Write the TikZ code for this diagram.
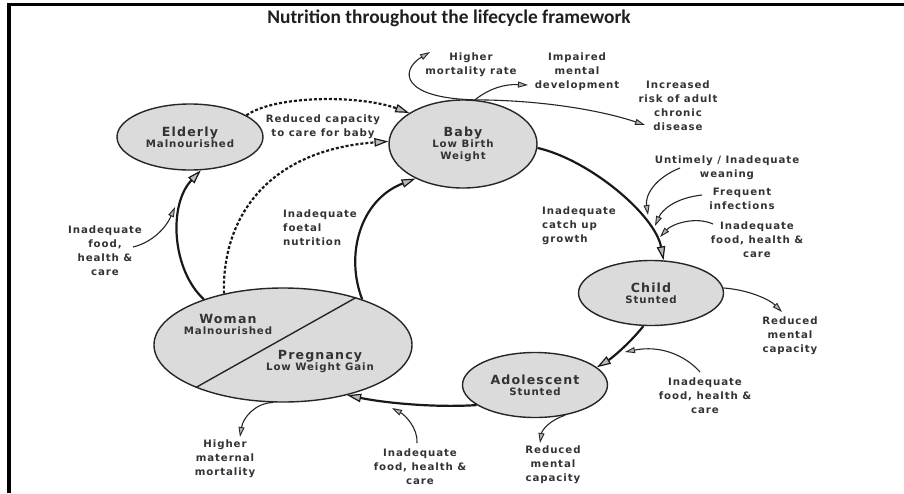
\documentclass[tikz,border=0pt]{standalone}
\usepackage{fontspec}
\setmainfont{DejaVu Sans}
\newfontfamily\labfont{DejaVu Sans}[LetterSpace=9]
\newfontfamily\titlefont{Carlito}
\usetikzlibrary{shapes.geometric,arrows.meta}

\tikzset{
  stage/.style={ellipse, draw=black!85, line width=1.4pt, fill=gray!28,
    inner sep=0pt, align=center, text=black!80, font=\labfont\bfseries},
  lbl/.style={align=center, text=black!80, inner sep=0pt,
    font=\labfont\bfseries\fontsize{10.2}{14}\selectfont},
  cycleflow/.style={line width=2.2pt, draw=black!90,
    -{Triangle[length=14pt,width=8.5pt,line width=1.2pt,fill=gray!55]}},
  dotflow/.style={cycleflow, dash pattern=on 3pt off 2pt},
  effect/.style={line width=1.1pt, draw=black!85,
    -{Triangle[length=10pt,width=6pt,line width=0.9pt,fill=gray!60]}},
}
\newcommand{\stagetext}[2]{{\fontsize{12.6}{17}\selectfont #1}\\[-1pt]{\fontsize{10.2}{14}\selectfont #2}}

\begin{document}
\begin{tikzpicture}[x=1pt,y=-1pt]
\useasboundingbox (0,0) rectangle (904,493);
\fill[white] (0,0) rectangle (904,493);

% page frame (top and left rules)
\fill[black] (7,3) rectangle (904,6);
\fill[black] (7,3) rectangle (11,493);

% title
\node[anchor=base, inner sep=0pt, text=black!88,
  font=\titlefont\bfseries\fontsize{19.4}{22}\selectfont] (title) at (449,23)
  {Nutrition throughout the lifecycle framework};

% life stages
\node[stage, minimum width=146pt, minimum height=66pt] (elderly) at (190,137)
  {\stagetext{Elderly}{Malnourished}};
\node[stage, minimum width=148pt, minimum height=88pt] (baby) at (463,144)
  {{\fontsize{12.6}{17}\selectfont Baby}\\[-1pt]{\fontsize{10.2}{14}\selectfont Low Birth}\\{\fontsize{10.2}{14}\selectfont Weight}};
\node[stage, minimum width=145pt, minimum height=65pt] (child) at (651,293)
  {\stagetext{Child}{Stunted}};
\node[stage, minimum width=145pt, minimum height=65pt] (adol) at (535,385)
  {\stagetext{Adolescent}{Stunted}};
\node[stage, minimum width=258pt, minimum height=114pt] (woman) at (283,345) {};
\draw[line width=1.4pt, black!85] (woman.206) -- (woman.33);
\node[lbl, font=\labfont\bfseries] (womantxt) at (228,324)
  {\stagetext{Woman}{Malnourished}};
\node[lbl, font=\labfont\bfseries] (pregtxt) at (320,361)
  {\stagetext{Pregnancy}{Low Weight Gain}};

% main cycle
\draw[cycleflow] (baby.-3) .. controls (590,160) and (655,215) .. (child.69);
\draw[cycleflow] (child.257) .. controls (630,343) and (612,358) .. (adol.16);
\draw[cycleflow] (adol.199) .. controls (430,408) and (380,402) .. (woman.-38);
\draw[cycleflow] (woman.30) .. controls (345,255) and (360,200) .. (baby.216);
\draw[cycleflow] (woman.150) .. controls (172,270) and (168,205) .. (elderly.-72);
\draw[dotflow] (woman.139) .. controls (222,215) and (270,150) .. (baby.178);
\draw[dotflow] (elderly.21) .. controls (275,95) and (360,95) .. (baby.150);

% labels on the cycle
\node[lbl] (reduced) at (323,127) {Reduced capacity\\to care for baby};
\node[lbl, align=left, anchor=west] (foetal) at (283,228) {Inadequate\\foetal\\nutrition};
\node[lbl, align=left, anchor=west] (catchup) at (542,226) {Inadequate\\catch up\\growth};

% outcomes of low birth weight
\coordinate (bt) at (baby.75);
\coordinate (mortend) at (430,52);
\coordinate (mentend) at (528,85);
\coordinate (riskend) at (645,125);
\draw[effect] (bt) .. controls (400,98) and (400,70) .. (mortend);
\draw[effect] (bt) .. controls (490,88) and (505,84) .. (mentend);
\draw[effect] (bt) .. controls (540,100) and (600,110) .. (riskend);
\node[lbl] (mort) at (471,65) {Higher\\mortality rate};
\node[lbl] (ment) at (577,72) {Impaired\\mental\\development};
\node[lbl] (risk) at (678,106) {Increased\\risk of adult\\chronic\\disease};

% influences on the child
\node[lbl] (wean) at (727,168) {Untimely / Inadequate\\weaning};
\node[lbl] (infect) at (742,199) {Frequent\\infections};
\node[lbl] (cfood) at (757,240) {Inadequate\\food, health \&\\care};
\coordinate (weanstart) at (680,168);
\coordinate (weanend) at (648,215);
\coordinate (infstart) at (702,195);
\coordinate (infend) at (655,226);
\coordinate (cfstart) at (713,224);
\coordinate (cfend) at (660,237);
\draw[effect] (weanstart) .. controls (655,178) and (645,195) .. (weanend);
\draw[effect] (infstart) .. controls (675,198) and (662,210) .. (infend);
\draw[effect] (cfstart) .. controls (695,216) and (672,224) .. (cfend);

% child outcome
\node[lbl] (cment) at (790,336) {Reduced\\mental\\capacity};
\coordinate (cmentend) at (782,312);
\draw[effect] (child.4) .. controls (750,290) and (770,300) .. (cmentend);

% adolescent
\node[lbl] (afood) at (705,396) {Inadequate\\food, health \&\\care};
\coordinate (afstart) at (700,372);
\coordinate (afend) at (625,352);
\draw[effect] (afstart) .. controls (685,355) and (660,345) .. (afend);
\node[lbl] (ament) at (553,465) {Reduced\\mental\\capacity};
\coordinate (amentend) at (540,443);
\draw[effect] (adol.-45) .. controls (550,420) and (542,430) .. (amentend);

% woman / pregnancy
\node[lbl] (wfood) at (420,467) {Inadequate\\food, health \&\\care};
\coordinate (wfstart) at (417,443);
\coordinate (wfend) at (392,408);
\draw[effect] (wfstart) .. controls (418,428) and (405,415) .. (wfend);
\node[lbl] (matmort) at (225,459) {Higher\\maternal\\mortality};
\coordinate (matend) at (240,437);
\draw[effect] (woman.-100) .. controls (255,403) and (243,418) .. (matend);

% elderly
\node[lbl] (efood) at (105,251) {Inadequate\\food,\\health \&\\care};
\coordinate (efstart) at (133,247);
\coordinate (efend) at (175,207);
\draw[effect] (efstart) .. controls (150,243) and (165,230) .. (efend);
\end{tikzpicture}
\end{document}
